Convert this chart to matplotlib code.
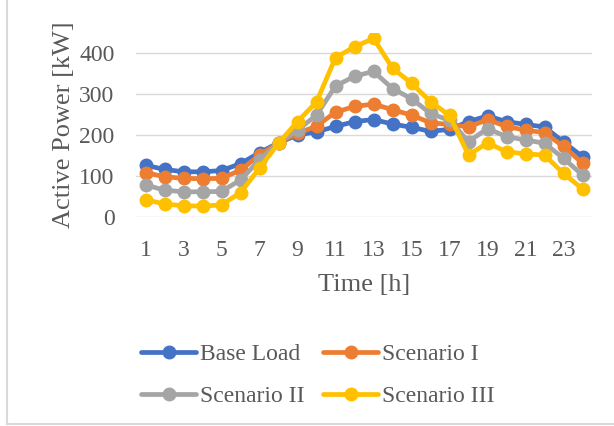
import matplotlib.pyplot as plt
from matplotlib.lines import Line2D

# --------------------------------------------------
# Hourly active power for the base load and three scenarios
# --------------------------------------------------

hours = list(range(1, 25))

base_load = [126, 116, 110, 110, 113, 130, 157, 181, 200, 208,
             221, 233, 238, 227, 219, 209, 214, 233, 247, 233,
             226, 220, 183, 147]
scenario_1 = [108, 98, 94, 93, 94, 114, 151, 181, 204, 222,
              256, 270, 276, 262, 249, 230, 226, 220, 238, 221,
              212, 206, 172, 131]
scenario_2 = [78, 65, 61, 61, 62, 90, 139, 181, 212, 249,
              320, 344, 356, 314, 289, 253, 236, 184, 216, 196,
              188, 180, 143, 102]
scenario_3 = [42, 31, 27, 26, 29, 59, 119, 180, 233, 281,
              390, 416, 437, 364, 327, 282, 248, 151, 181, 159,
              154, 151, 106, 68]

series_names = ["Base Load", "Scenario I", "Scenario II", "Scenario III"]
colors = ["#4472C4", "#ED7D31", "#A5A5A5", "#FFC000"]

xtick_labels = [str(h) for h in range(1, 25, 2)]
ytick_values = [0, 100, 200, 300, 400]

# --------------------------------------------------
# Plot
# --------------------------------------------------

plt.rcParams["font.family"] = ["Liberation Serif", "DejaVu Serif"]
text_color = "#595959"
fs_tick = 17
fs_label = 19

fig = plt.figure(figsize=(6.14, 4.26), dpi=100)
ax = fig.add_axes([0.2215, 0.4913, 0.7427, 0.4312])

handles = []
for values, name, c in zip([base_load, scenario_1, scenario_2, scenario_3],
                           series_names, colors):
    h, = ax.plot(hours, values, color=c, linewidth=3.4, marker="o",
                 markersize=9, label=name, solid_capstyle="round")
    handles.append(h)

ax.set_xlim(0.5, 24.5)
ax.set_ylim(0, 450)
ax.set_xticks(range(1, 25, 2))
ax.set_xticklabels(xtick_labels)
ax.set_yticks(ytick_values)
ax.tick_params(length=0, labelsize=fs_tick, colors=text_color)
ax.tick_params(axis="x", pad=16.5)
ax.tick_params(axis="y", pad=15.5)
ax.grid(axis="y", color="#D9D9D9", linewidth=1.0)
ax.set_axisbelow(True)
for s in ax.spines.values():
    s.set_visible(False)

ax.set_xlabel("Time [h]", fontsize=fs_label, color=text_color, labelpad=9.5)
ax.set_ylabel("Active Power [kW]", fontsize=fs_label, color=text_color, labelpad=3)

# legend in rows: Base Load / Scenario I, then Scenario II / Scenario III
order = [0, 2, 1, 3]
fig.legend([handles[i] for i in order], [series_names[i] for i in order],
           ncol=2, loc="center", bbox_to_anchor=(0.518, 0.1186),
           frameon=False, fontsize=fs_tick, handlelength=2.33, handletextpad=0.17,
           columnspacing=0.76, labelspacing=0.85, labelcolor=text_color)

# chart area border (only left and bottom edges are visible)
fig.lines.append(Line2D([0.012, 0.012], [0.005, 1.0], transform=fig.transFigure,
                        color="#D9D9D9", linewidth=1.5))
fig.lines.append(Line2D([0.012, 1.0], [0.005, 0.005], transform=fig.transFigure,
                        color="#D9D9D9", linewidth=1.5))

fig.savefig("out.png", dpi=100)
